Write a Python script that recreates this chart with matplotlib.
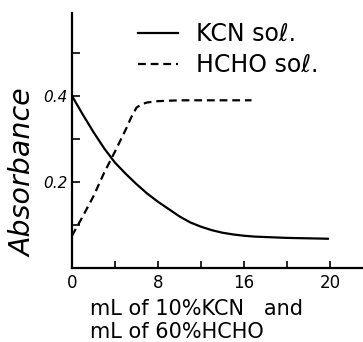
import matplotlib
matplotlib.use('Agg')
import matplotlib.pyplot as plt

# KCN solution (solid)
kcn_x = [0, 1, 2, 3, 4, 5, 6, 7, 8, 9, 10, 11, 12, 13, 14, 15, 16, 17, 18,
         19, 20, 21, 22, 23, 23.8]
kcn_y = [0.400, 0.357, 0.316, 0.278, 0.245, 0.219, 0.195, 0.173, 0.154,
         0.137, 0.120, 0.106, 0.096, 0.088, 0.082, 0.078, 0.075, 0.073,
         0.072, 0.071, 0.070, 0.0695, 0.069, 0.0685, 0.068]

# HCHO solution (dashed)
hcho_x = [0, 1, 2, 3, 4, 5, 5.5, 6, 6.5, 7, 8, 9, 10, 12, 14, 16, 16.7]
hcho_y = [0.075, 0.120, 0.167, 0.222, 0.271, 0.322, 0.350, 0.373, 0.381,
          0.385, 0.388, 0.389, 0.390, 0.390, 0.390, 0.390, 0.390]

x_ticks = [0, 4, 8, 12, 16, 20, 24]
x_tick_labels = ['0', '', '8', '', '16', '', '20']
y_ticks = [0.1, 0.2, 0.3, 0.4, 0.5]
y_tick_labels = ['', '0.2', '', '0.4', '']

fig = plt.figure(figsize=(3.63, 3.42), dpi=100)
ax = fig.add_axes([72 / 363, 1 - 268 / 342, 1 - 72 / 363, 255 / 342])

ax.plot(kcn_x, kcn_y, color='black', lw=1.6, solid_joinstyle='round',
        label='KCN soℓ.')
ax.plot(hcho_x, hcho_y, color='black', lw=1.6, dashes=(3.5, 2.2),
        label='HCHO soℓ.')

ax.set_xlim(0, 27.07)
ax.set_ylim(0, 0.593)
ax.spines['top'].set_visible(False)
ax.spines['right'].set_visible(False)
for sp in ('left', 'bottom'):
    ax.spines[sp].set_linewidth(1.6)

ax.set_xticks(x_ticks)
ax.set_xticklabels(x_tick_labels, fontsize=12)
ax.set_yticks(y_ticks)
ax.set_yticklabels(y_tick_labels, fontsize=11, style='italic')
ax.tick_params(direction='in', length=6, width=1.2, color='black')
ax.tick_params(axis='x', length=5, pad=4)

ax.set_ylabel('Absorbance', fontsize=20.5, style='italic')
ax.yaxis.set_label_coords(-0.118, 0.373)
ax.set_xlabel('mL of 10%KCN   and\nmL of 60%HCHO', fontsize=15,
              ha='left', linespacing=1.2)
ax.xaxis.set_label_coords(18 / 291, -0.122)

ax.legend(loc='upper left', bbox_to_anchor=(0.186, 1.01), frameon=False,
          fontsize=17, handlelength=1.7, handletextpad=0.75, labelspacing=0.3,
          borderpad=0.0)

fig.savefig('out.png', dpi=100)
